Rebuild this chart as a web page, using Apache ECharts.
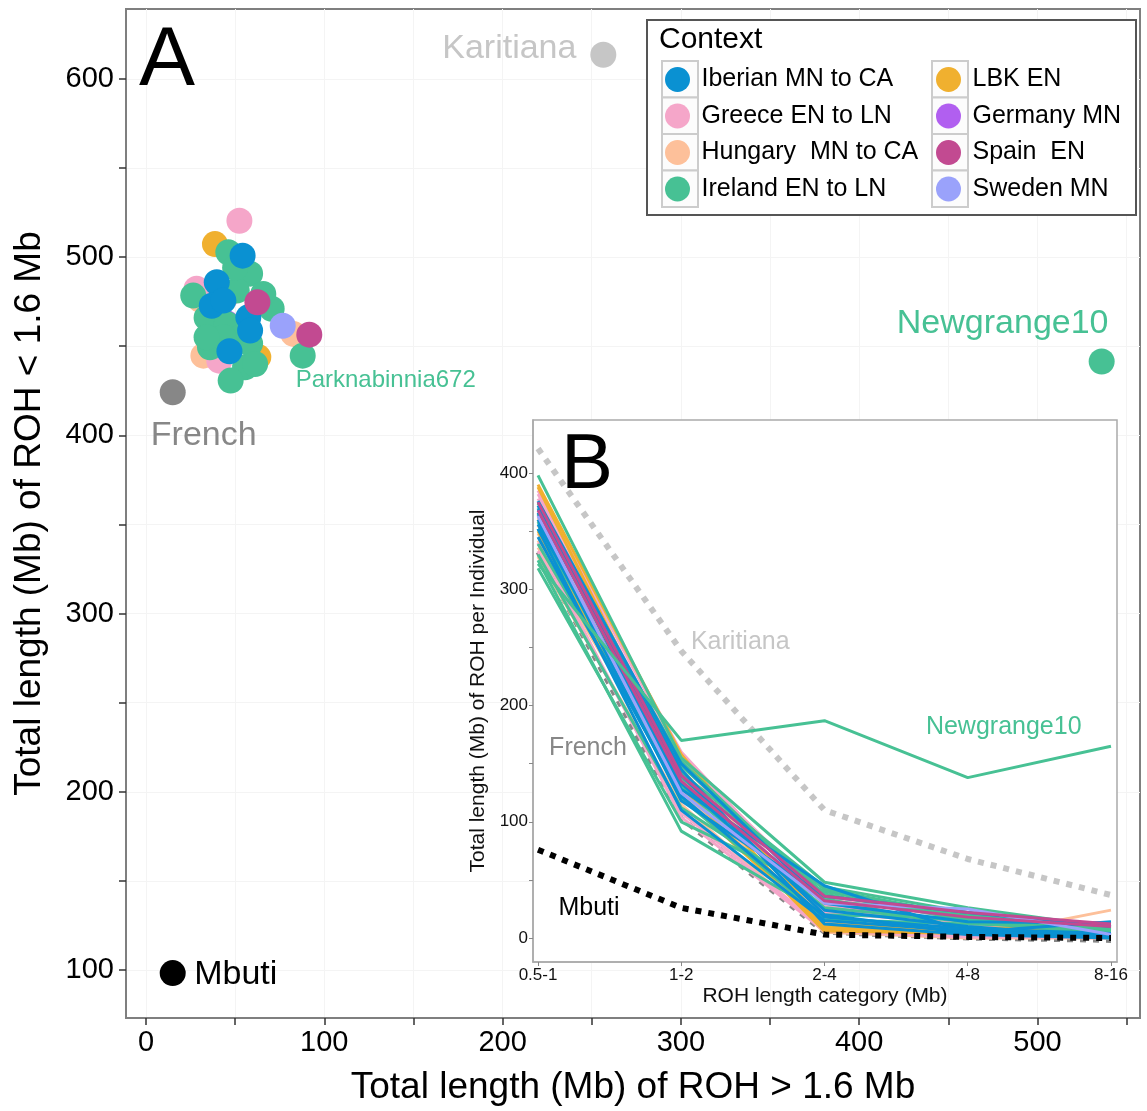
<!DOCTYPE html>
<html><head><meta charset="utf-8">
<script src="https://cdn.jsdelivr.net/npm/echarts@6/dist/echarts.min.js"></script>
<style>html,body{margin:0;padding:0;background:#fff;}#c{width:1147px;height:1111px;}</style>
</head><body><div id="c"></div>
<script>
// ---------- data ----------
const groups = ['Iberian MN to CA','Greece EN to LN','Hungary  MN to CA','Ireland EN to LN','LBK EN','Germany MN','Spain  EN','Sweden MN'];
const colors = ['#0a91d2','#f5a6c9','#fdc09a','#47c194','#f0b02f','#b15ff0','#c24a91','#9aa2fb'];

// Panel A: [ROH > 1.6 Mb, ROH < 1.6 Mb]
const ptsIberian = [[54.2,500.8],[39.7,485.9],[36.9,472.7],[43.4,475.6],[57.4,466.2],[58.4,458.8],[46.8,447.2]];
const ptsGreece  = [[52.4,520.4],[28.4,482.3],[41.1,441.9],[45.0,478.0]];
const ptsHungary = [[82.7,456.9],[32.2,444.7],[30.5,476.0]];
const ptsIreland = [[46.2,502.7],[58.4,490.7],[26.5,478.4],[50.9,481.2],[70.5,471.0],[37.8,460.6],[35.9,449.4],[55.6,438.2],[47.5,430.7],[34.0,466.0],[45.3,462.5],[52.7,455.0],[43.4,455.0],[58.4,451.5],[65.8,479.3],[34.0,455.0],[61.2,440.0],[50.0,494.0]];
const ptsLBK     = [[38.7,507.3],[63.0,443.9]];
const ptsGermany = [[45.0,463.0]];
const ptsSpain   = [[62.5,474.7],[91.6,456.5]];
const ptsSweden  = [[76.7,461.5]];
const ptParknabinnia = [87.9,444.7];
const ptNewgrange = [536.0,441.4];
const ptKaritiana = [256.5,613.5];
const ptFrench = [15.0,424.2];
const ptMbuti = [15.0,98.3];

// Panel B: total length per ROH category
const cats = ['0.5-1','1-2','2-4','4-8','8-16'];
const linesIberian = [[372,128,45,5,14],[366,140,20,4,2],[360,118,36,22,10],[352,110,15,6,3],[376,150,30,14,13],[345,122,18,8,4],[356,133,24,10,1],[369,145,12,3,0]];
const linesGreece  = [[382,160,28,8,4],[333,108,8,2,0],[378,150,22,12,5],[340,104,6,1,1],[385,155,35,16,8]];
const linesHungary = [[348,135,10,0,24],[336,128,14,2,0],[362,145,18,6,8],[328,115,5,0,0],[355,138,25,10,2],[342,125,12,4,1]];
const linesIreland = [[398,155,48,26,9],[325,92,20,17,10],[318,100,40,18,8],[330,112,32,20,11],[365,148,38,15,6],[374,142,44,22,2],[358,120,16,12,9],[339,130,26,14,3],[370,152,34,8,0],[352,138,42,19,7]];
const linesLBK     = [[390,158,12,6,10],[388,140,8,5,9],[360,130,6,4,8],[350,122,10,8,11]];
const linesGermany = [[364,136,30,10,4]];
const linesSpain   = [[375,140,36,22,12],[368,135,32,18,10]];
const linesSweden  = [[363,125,30,25,3]];
const lineNewgrange = [322,170,187,138,165];
const lineKaritiana = [421,247,110,68,37];
const lineFrench = [332,103,5,0,-2];
const lineMbuti = [76,26,3,1,0];

// ---------- chart ----------
const FF = 'Liberation Sans, Arial, Helvetica, sans-serif';
const chart = echarts.init(document.getElementById('c'), null, {renderer:'canvas'});

const ptSets = [ptsIberian,ptsGreece,ptsHungary,ptsIreland,ptsLBK,ptsGermany,ptsSpain,ptsSweden];
const lineSets = [linesIberian,linesGreece,linesHungary,linesIreland,linesLBK,linesGermany,linesSpain,linesSweden];
const drawOrder = [5,2,1,4,3,0,7,6];
const series = [];

function lbl(text, color, size, offset){
  return {show:true, formatter:text, position:'inside', offset:offset, color:color, fontSize:size, fontFamily:FF};
}

// scatter points (panel A)
drawOrder.forEach(g=>{
  const data = ptSets[g].map(p=>p.slice());
  if (g===3){
    data.push({value:ptParknabinnia, label:lbl('Parknabinnia672', colors[3], 24, [83,25])});
    data.push({value:ptNewgrange, label:lbl('Newgrange10', colors[3], 34, [-99,-38])});
  }
  series.push({type:'scatter', name:groups[g], xAxisIndex:0, yAxisIndex:0, data:data,
    symbolSize:26, itemStyle:{color:colors[g], opacity:1}, z:2, animation:false});
});
series.push({type:'scatter', name:'Karitiana', xAxisIndex:0, yAxisIndex:0, symbolSize:26, itemStyle:{color:'#c6c6c6', opacity:1}, z:2,
  data:[{value:ptKaritiana, label:lbl('Karitiana','#c6c6c6',34,[-94,-6])}]});
series.push({type:'scatter', name:'French', xAxisIndex:0, yAxisIndex:0, symbolSize:26, itemStyle:{color:'#878787', opacity:1}, z:2,
  data:[{value:ptFrench, label:lbl('French','#878787',34,[31,43])}]});
series.push({type:'scatter', name:'Mbuti', xAxisIndex:0, yAxisIndex:0, symbolSize:26, itemStyle:{color:'#000', opacity:1}, z:2,
  data:[{value:ptMbuti, label:lbl('Mbuti','#000',34,[63,2])}]});

// lines (panel B)
const toXY = v => v.map((y,i)=>[i,y]);
series.push({type:'line', name:'Karitiana', xAxisIndex:1, yAxisIndex:1, showSymbol:true, symbolSize:0.001,
  data:toXY(lineKaritiana).map((d,i)=> i===1 ? {value:d, label:lbl('Karitiana','#c6c6c6',25,[59,-9])} : d),
  lineStyle:{color:'#c6c6c6', width:6, type:[6,7], cap:'butt'}, itemStyle:{color:'#c6c6c6'}, z:5, animation:false});
series.push({type:'line', name:'French', xAxisIndex:1, yAxisIndex:1, showSymbol:true, symbolSize:0.001,
  data:toXY(lineFrench).map((d,i)=> i===0 ? {value:d, label:lbl('French','#878787',25,[50,196])} : d),
  lineStyle:{color:'#878787', width:5, type:[6,7], cap:'butt'}, itemStyle:{color:'#878787'}, z:5, animation:false});
drawOrder.forEach(g=>{
  lineSets[g].forEach(arr=>{
    series.push({type:'line', name:groups[g], xAxisIndex:1, yAxisIndex:1, symbol:'none', showSymbol:false,
      data:toXY(arr), lineStyle:{color:colors[g], width:3}, itemStyle:{color:colors[g]}, z:6, animation:false});
  });
});
series.push({type:'line', name:'Newgrange10', xAxisIndex:1, yAxisIndex:1, showSymbol:true, symbolSize:0.001,
  data:toXY(lineNewgrange).map((d,i)=> i===3 ? {value:d, label:lbl('Newgrange10',colors[3],25,[36,-51])} : d),
  lineStyle:{color:colors[3], width:3}, itemStyle:{color:colors[3]}, z:6, animation:false});
series.push({type:'line', name:'Mbuti', xAxisIndex:1, yAxisIndex:1, showSymbol:true, symbolSize:0.001,
  data:toXY(lineMbuti).map((d,i)=> i===0 ? {value:d, label:lbl('Mbuti','#000',25,[51,58])} : d),
  lineStyle:{color:'#000', width:6, type:[6,7], cap:'butt'}, itemStyle:{color:'#000'}, z:7, animation:false});

const mainTicksX = [0,50,100,150,200,250,300,350,400,450,500,550];
const mainLabelsX = [0,100,200,300,400,500];
const mainTicksY = [100,150,200,250,300,350,400,450,500,550,600];
const mainLabelsY = [100,200,300,400,500,600];
const insetTicksY = [0,50,100,150,200,250,300,350,400];
const insetLabelsY = [0,100,200,300,400];
const catIdx = [0,1,2,3,4];

const keyRects = [];
for (let c=0;c<2;c++) for (let r=0;r<4;r++){
  keyRects.push({type:'rect', left:[661,931][c], top:60+r*36.5, shape:{width:36,height:36.5},
    style:{fill:'#fcfcfc', stroke:'#cccccc', lineWidth:2}, z:11});
}

chart.setOption({
  backgroundColor:'#fff',
  animation:false,
  grid:[
    {left:126, top:9, right:7, bottom:92, show:true, borderColor:'#7f7f7f', borderWidth:2, backgroundColor:'#fff', z:0},
    {left:533, top:420, right:30, bottom:149, show:true, borderColor:'#aaaaaa', borderWidth:1.5, backgroundColor:'#fff', z:3}
  ],
  xAxis:[
    {type:'value', gridIndex:0, min:-11.2, max:557.5,
      axisLine:{show:true, onZero:false, lineStyle:{color:'#7f7f7f', width:2}},
      axisTick:{show:true, customValues:mainTicksX, length:7, lineStyle:{color:'#333', width:1.5}},
      axisLabel:{customValues:mainLabelsX, fontSize:29, color:'#000', fontFamily:FF, margin:10},
      splitLine:{show:true, lineStyle:{color:'#f4f4f4', width:1}},
      name:'Total length (Mb) of ROH > 1.6 Mb', nameLocation:'middle', nameGap:51,
      nameTextStyle:{fontSize:37, color:'#000', fontFamily:FF}},
    {type:'value', gridIndex:1, min:-0.035, max:4.042, z:4,
      axisLine:{show:true, onZero:false, lineStyle:{color:'#aaaaaa', width:1.5}},
      axisTick:{show:true, customValues:catIdx, length:4, lineStyle:{color:'#888'}},
      axisLabel:{customValues:catIdx, formatter:v=>cats[Math.round(v)], fontSize:17, color:'#111', fontFamily:FF, margin:5},
      splitLine:{show:false},
      name:'ROH length category (Mb)', nameLocation:'middle', nameGap:24,
      nameTextStyle:{fontSize:21, color:'#111', fontFamily:FF}}
  ],
  yAxis:[
    {type:'value', gridIndex:0, min:73.1, max:639.2,
      axisLine:{show:true, onZero:false, lineStyle:{color:'#7f7f7f', width:2}},
      axisTick:{show:true, customValues:mainTicksY, length:7, lineStyle:{color:'#333', width:1.5}},
      axisLabel:{customValues:mainLabelsY, fontSize:29, color:'#000', fontFamily:FF, margin:12},
      splitLine:{show:true, lineStyle:{color:'#f4f4f4', width:1}},
      name:'Total length (Mb) of ROH < 1.6 Mb', nameLocation:'middle', nameGap:78,
      nameTextStyle:{fontSize:37, color:'#000', fontFamily:FF}},
    {type:'value', gridIndex:1, min:-20.6, max:445.6, z:4,
      axisLine:{show:true, onZero:false, lineStyle:{color:'#aaaaaa', width:1.5}},
      axisTick:{show:true, customValues:insetTicksY, length:4, lineStyle:{color:'#888'}},
      axisLabel:{customValues:insetLabelsY, fontSize:17, color:'#111', fontFamily:FF, margin:5},
      splitLine:{show:false},
      name:'Total length (Mb) of ROH per Individual', nameLocation:'middle', nameGap:39,
      nameTextStyle:{fontSize:21, color:'#111', fontFamily:FF}}
  ],
  legend:[
    {data:groups.slice(0,4), orient:'vertical', left:665, top:67, padding:0, itemWidth:38, itemHeight:25, itemGap:11.5,
      icon:'circle', selectedMode:false, textStyle:{fontSize:25, color:'#000', fontFamily:FF}, z:12},
    {data:groups.slice(4,8), orient:'vertical', left:936, top:67, padding:0, itemWidth:38, itemHeight:25, itemGap:11.5,
      icon:'circle', selectedMode:false, textStyle:{fontSize:25, color:'#000', fontFamily:FF}, z:12}
  ],
  graphic:[
    {type:'rect', left:646, top:19, shape:{width:489,height:195}, style:{fill:'#fff', stroke:'#555', lineWidth:2}, z:10},
    {type:'text', left:659, top:25, style:{text:'Context', fontSize:30, fill:'#000', fontFamily:FF}, z:11},
    ...keyRects,
    {type:'text', left:139, top:20, style:{text:'A', fontSize:84, fill:'#000', fontFamily:FF}, z:11},
    {type:'text', left:561, top:427, style:{text:'B', fontSize:78, fill:'#000', fontFamily:FF}, z:11}
  ],
  series:series
});
</script></body></html>
